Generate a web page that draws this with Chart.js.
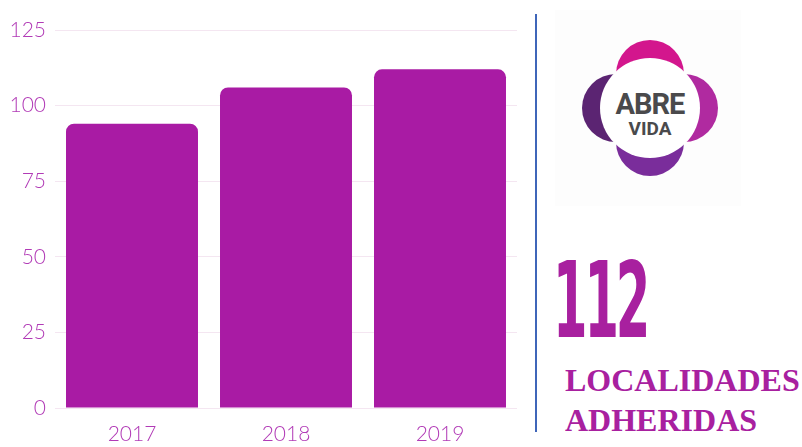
<!DOCTYPE html>
<html>
<head>
<meta charset="utf-8">
<script src="https://cdn.jsdelivr.net/npm/chart.js@4"></script>
<style>
    html, body { margin: 0; padding: 0; background: #fff; }
    body { width: 802px; height: 447px; position: relative; overflow: hidden; }
    #chart-box { position: absolute; left: 0; top: 0; width: 530px; height: 447px; }
    #divider { position: absolute; left: 535px; top: 14px; width: 2px; height: 418px; background: #3f66b9; }
    #logo { position: absolute; left: 555px; top: 10px; width: 186px; height: 196px; background: #fdfdfd; }
    #big-number {
        position: absolute; left: 553px; top: 248px;
        font-family: "DejaVu Sans Condensed", "DejaVu Sans", sans-serif; font-weight: bold;
        font-size: 106px; line-height: 1; color: #a8209f; letter-spacing: -6px;
        transform: scaleX(0.52); transform-origin: left top;
    }
    .caption {
        position: absolute; left: 565px;
        font-family: "Liberation Serif", "Times New Roman", serif; font-weight: bold;
        font-size: 32px; line-height: 1; color: #a8209f;
    }
</style>
</head>
<body>
<div id="chart-box"><canvas id="mychart"></canvas></div>
<div id="divider"></div>
<svg id="logo" viewBox="0 0 186 196" xmlns="http://www.w3.org/2000/svg">
    <circle cx="95" cy="64" r="34" fill="#d3168d"/>
    <circle cx="129" cy="98" r="34" fill="#b02aa0"/>
    <circle cx="95" cy="132" r="34" fill="#7a2d9b"/>
    <circle cx="61" cy="98" r="34" fill="#5b2472"/>
    <circle cx="95" cy="98" r="50" fill="#ffffff"/>
    <text x="95" y="104" text-anchor="middle" font-family="Roboto, 'DejaVu Sans', sans-serif" font-weight="bold" font-size="29" fill="#4a4a4c" letter-spacing="-1">ABRE</text>
    <text x="95" y="125" text-anchor="middle" font-family="Roboto, 'DejaVu Sans', sans-serif" font-weight="bold" font-size="19" fill="#4a4a4c">VIDA</text>
</svg>
<div id="big-number">112</div>
<div class="caption" style="top: 364px;">LOCALIDADES</div>
<div class="caption" style="top: 404px;">ADHERIDAS</div>

<script>
const years = ['2017', '2018', '2019'];
const localidades = [94, 106, 112];
const yTicks = [0, 25, 50, 75, 100, 125];

const barColor = '#a91ba4';
const labelColor = '#b13ab6';

try {
    const element = document.getElementById('mychart');
    new Chart(element, {
        type: 'bar',
        data: {
            labels: years,
            datasets: [{
                data: localidades,
                backgroundColor: barColor,
                borderWidth: 0,
                borderRadius: 8,
                categoryPercentage: 1,
                barPercentage: 0.857
            }]
        },
        options: {
            responsive: true,
            maintainAspectRatio: false,
            animation: false,
            layout: { padding: { top: 30, right: 13, bottom: 0, left: 0 } },
            plugins: { legend: { display: false }, tooltip: { enabled: false } },
            scales: {
                x: {
                    grid: { display: false, drawTicks: false },
                    border: { display: false },
                    ticks: {
                        color: labelColor,
                        padding: 14,
                        font: { family: 'Lato', size: 21, weight: '300' }
                    },
                    afterFit: (scale) => { scale.height = 39; }
                },
                y: {
                    min: 0,
                    max: 125,
                    afterBuildTicks: (scale) => { scale.ticks = yTicks.map(v => ({ value: v })); },
                    grid: { color: '#f4e6f1', lineWidth: 1, drawTicks: false },
                    border: { display: false },
                    ticks: {
                        color: labelColor,
                        padding: 9,
                        font: { family: 'Lato', size: 21, weight: '300' }
                    },
                    afterFit: (scale) => { scale.width = 55; }
                }
            }
        }
    });
} catch (error) {
    console.error(error.message);
}
</script>
</body>
</html>
